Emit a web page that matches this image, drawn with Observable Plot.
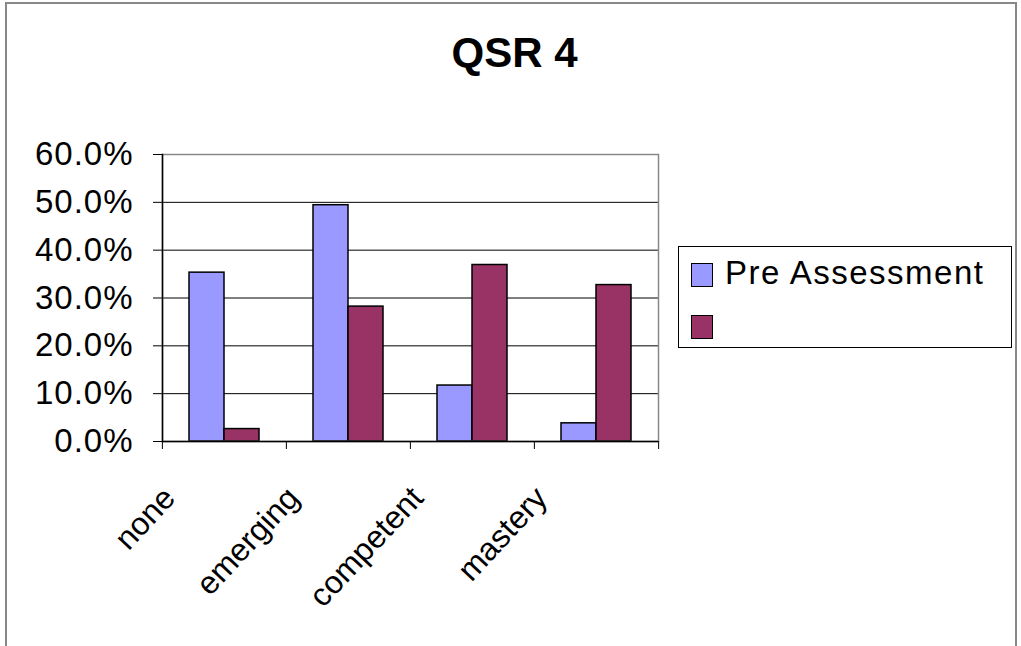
<!DOCTYPE html>
<html>
<head>
<meta charset="utf-8">
<script src="https://cdn.jsdelivr.net/npm/d3@7"></script>
<script src="https://cdn.jsdelivr.net/npm/@observablehq/plot@0.6"></script>
<style>
  html, body { margin: 0; padding: 0; background: #fff; }
  #wrap { position: relative; width: 1021px; height: 646px; overflow: hidden; font-family: "Liberation Sans", Arial, sans-serif; color: #000; }
  #border { position: absolute; left: 5px; top: 2px; width: 1012px; height: 700px; border: 2px solid #888; box-sizing: border-box; }
  #title { position: relative; height: 78px; padding-top: 32px; line-height: 42px; font-size: 42px; font-weight: bold; text-align: center; padding-left: 8px; }
  #chart { position: relative; }
  #chart svg g[aria-label="y-axis tick label"] text { letter-spacing: 1px; }
  #legend { position: absolute; left: 678px; top: 246px; width: 334px; height: 102px; border: 1px solid #000; box-sizing: border-box; background: #fff; }
  .item { position: absolute; left: 12px; height: 24px; }
  .sw { position: absolute; left: 0; top: 0; width: 22px; height: 24px; border: 1.5px solid #000; box-sizing: border-box; }
  .lab { position: absolute; left: 34px; top: -10px; font-size: 33px; letter-spacing: 1.5px; line-height: 40px; white-space: nowrap; }
</style>
</head>
<body>
<div id="wrap">
  <div id="border"></div>
  <div id="title">QSR 4</div>
  <div id="chart"></div>
  <div id="legend"></div>
</div>
<script>
const categories = ["none", "emerging", "competent", "mastery"];
const preValues = [0.353, 0.494, 0.117, 0.038];
const postValues = [0.026, 0.282, 0.369, 0.327];
const seriesKeys = ["pre", "post"];
const seriesNames = ["Pre Assessment", ""];
const seriesColors = ["#9999FF", "#993366"];
const yTicks = [0, 0.1, 0.2, 0.3, 0.4, 0.5, 0.6];

const rows = categories.flatMap((c, i) => [
  {cat: c, series: "pre", value: preValues[i]},
  {cat: c, series: "post", value: postValues[i]}
]);

const W = 670, H = 536, mL = 161, mR = 12, mT = 44, mB = 205;
const bw = (W - mL - mR) / categories.length;

const chart = Plot.plot({
  width: W, height: H,
  marginTop: mT, marginBottom: mB, marginLeft: mL, marginRight: mR,
  style: {fontFamily: "'Liberation Sans', Arial, sans-serif", background: "transparent", color: "#000", overflow: "visible"},
  fx: {domain: categories, paddingInner: 0, paddingOuter: 0, axis: null, label: null},
  x: {domain: seriesKeys, paddingInner: 0, paddingOuter: 0.75, axis: null},
  y: {domain: [0, 0.6], axis: null},
  color: {domain: seriesKeys, range: seriesColors},
  marks: [
    Plot.ruleY(yTicks.slice(1, -1), {stroke: "#000", strokeWidth: 1}),
    Plot.barY(rows, {fx: "cat", x: "series", y: "value", fill: "series", stroke: "#000", strokeWidth: 1.5}),
    Plot.frame({facet: "super", stroke: "#888", strokeWidth: 1.5}),
    Plot.ruleY([0], {stroke: "#000", strokeWidth: 1.5}),
    Plot.frame({facet: "super", anchor: "left", stroke: "#000", strokeWidth: 1.5}),
    Plot.axisY({ticks: yTicks, tickFormat: d3.format(".1%"), tickSize: 9, tickPadding: 20, fontSize: 33, label: null, stroke: "#000"}),
    Plot.axisFx({anchor: "bottom", tickSize: 8, text: null, dx: -bw / 2, label: null}),
    Plot.axisFx({anchor: "bottom", ticks: [categories[categories.length - 1]], tickSize: 8, text: null, dx: bw / 2, label: null}),
    Plot.axisFx({anchor: "bottom", tickSize: 0, tickRotate: -47, tickPadding: 0, fontSize: 32, dx: -55, dy: 51, label: null})
  ]
});
document.getElementById("chart").appendChild(chart);

const legend = document.getElementById("legend");
seriesNames.forEach((name, i) => {
  const it = document.createElement("div");
  it.className = "item";
  it.style.top = (16 + i * 52) + "px";
  const sw = document.createElement("div");
  sw.className = "sw";
  sw.style.background = seriesColors[i];
  const lab = document.createElement("div");
  lab.className = "lab";
  lab.textContent = name;
  it.appendChild(sw);
  it.appendChild(lab);
  legend.appendChild(it);
});
</script>
</body>
</html>
